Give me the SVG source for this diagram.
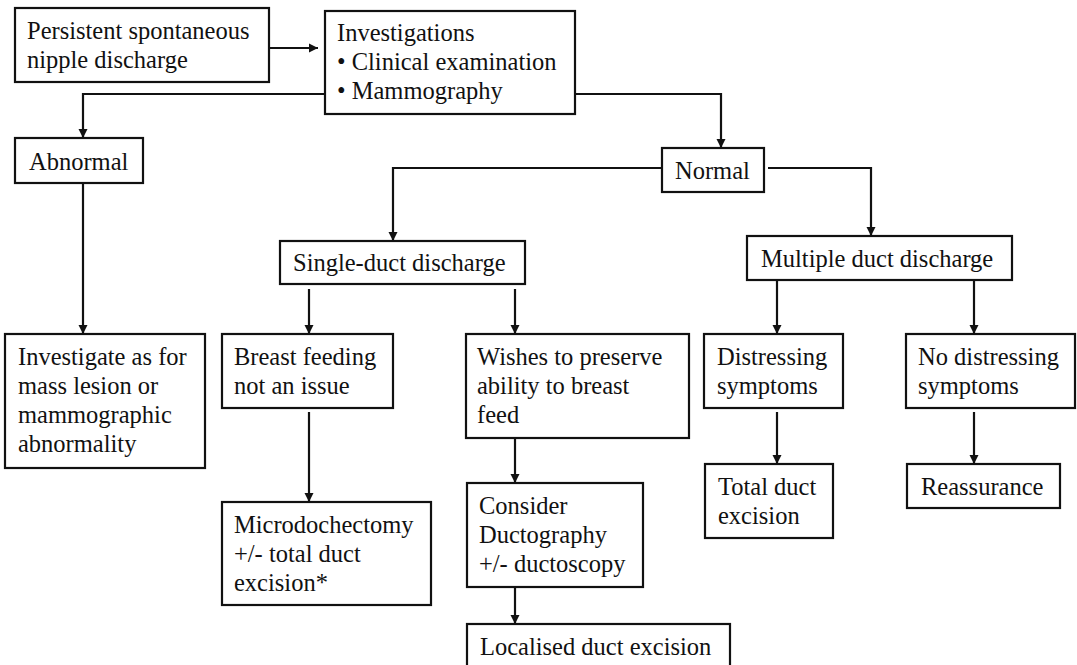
<svg xmlns="http://www.w3.org/2000/svg" width="1077" height="665" viewBox="0 0 1077 665">
<style>
.box{fill:#fff;stroke:#111;stroke-width:2.2}
.t{font-family:'Liberation Serif',Tinos,'Times New Roman','DejaVu Serif',serif;font-size:24.5px;fill:#111}
.c{fill:none;stroke:#111;stroke-width:2.2}
</style>
<defs>
<marker id="ah" markerUnits="userSpaceOnUse" markerWidth="10" markerHeight="10" refX="9" refY="5" orient="auto">
<path d="M0,0.5 L9,5 L0,9.5 z" fill="#111"/>
</marker>
</defs>
<rect width="1077" height="665" fill="#fff"/>
<g id="connectors">
<path class="c" d="M270,48 H318" marker-end="url(#ah)"/>
<path class="c" d="M325,94 H83 V138" marker-end="url(#ah)"/>
<path class="c" d="M83,183 V334" marker-end="url(#ah)"/>
<path class="c" d="M572,94 H721 V148" marker-end="url(#ah)"/>
<path class="c" d="M662,168 H393 V241" marker-end="url(#ah)"/>
<path class="c" d="M768,168 H871 V236" marker-end="url(#ah)"/>
<path class="c" d="M309,289 V334" marker-end="url(#ah)"/>
<path class="c" d="M515,289 V334" marker-end="url(#ah)"/>
<path class="c" d="M777,280 V334" marker-end="url(#ah)"/>
<path class="c" d="M974,280 V334" marker-end="url(#ah)"/>
<path class="c" d="M309,412 V502" marker-end="url(#ah)"/>
<path class="c" d="M515,438 V483" marker-end="url(#ah)"/>
<path class="c" d="M515,587 V624" marker-end="url(#ah)"/>
<path class="c" d="M777,412 V464" marker-end="url(#ah)"/>
<path class="c" d="M974,412 V464" marker-end="url(#ah)"/>
</g>
<g font-family="Liberation Serif, serif">
<g id="n1"><rect class="box" x="15" y="8" width="254" height="74"/><text class="t" x="27" y="39">Persistent spontaneous</text><text class="t" x="27" y="68">nipple discharge</text></g>
<g id="n2"><rect class="box" x="325" y="11" width="250" height="103"/><text class="t" x="337" y="41">Investigations</text><text class="t" x="337" y="70">• Clinical examination</text><text class="t" x="337" y="99">• Mammography</text></g>
<g id="n3"><rect class="box" x="15" y="138" width="128" height="45"/><text class="t" x="29" y="170">Abnormal</text></g>
<g id="n4"><rect class="box" x="662" y="148" width="102" height="44"/><text class="t" x="675" y="179">Normal</text></g>
<g id="n5"><rect class="box" x="280" y="241" width="245" height="43"/><text class="t" x="293" y="271">Single-duct discharge</text></g>
<g id="n6"><rect class="box" x="747" y="236" width="265" height="44"/><text class="t" x="761" y="267">Multiple duct discharge</text></g>
<g id="n7"><rect class="box" x="5" y="334" width="200" height="134"/><text class="t" x="18" y="365">Investigate as for</text><text class="t" x="18" y="394">mass lesion or</text><text class="t" x="18" y="423">mammographic</text><text class="t" x="18" y="452">abnormality</text></g>
<g id="n8"><rect class="box" x="222" y="334" width="171" height="74"/><text class="t" x="234" y="365">Breast feeding</text><text class="t" x="234" y="394">not an issue</text></g>
<g id="n9"><rect class="box" x="466" y="334" width="223" height="104"/><text class="t" x="477" y="365">Wishes to preserve</text><text class="t" x="477" y="394">ability to breast</text><text class="t" x="477" y="423">feed</text></g>
<g id="n10"><rect class="box" x="704" y="334" width="139" height="74"/><text class="t" x="717" y="365">Distressing</text><text class="t" x="717" y="394">symptoms</text></g>
<g id="n11"><rect class="box" x="906" y="334" width="169" height="74"/><text class="t" x="918" y="365">No distressing</text><text class="t" x="918" y="394">symptoms</text></g>
<g id="n12"><rect class="box" x="222" y="502" width="209" height="103"/><text class="t" x="234" y="533">Microdochectomy</text><text class="t" x="234" y="562">+/- total duct</text><text class="t" x="234" y="591">excision*</text></g>
<g id="n13"><rect class="box" x="467" y="483" width="176" height="104"/><text class="t" x="479" y="514">Consider</text><text class="t" x="479" y="543">Ductography</text><text class="t" x="479" y="572">+/- ductoscopy</text></g>
<g id="n14"><rect class="box" x="705" y="464" width="128" height="74"/><text class="t" x="718" y="495">Total duct</text><text class="t" x="718" y="524">excision</text></g>
<g id="n15"><rect class="box" x="907" y="464" width="153" height="44"/><text class="t" x="921" y="495">Reassurance</text></g>
<g id="n16"><rect class="box" x="467" y="624" width="263" height="60"/><text class="t" x="480" y="655">Localised duct excision</text></g>
</g>
</svg>
